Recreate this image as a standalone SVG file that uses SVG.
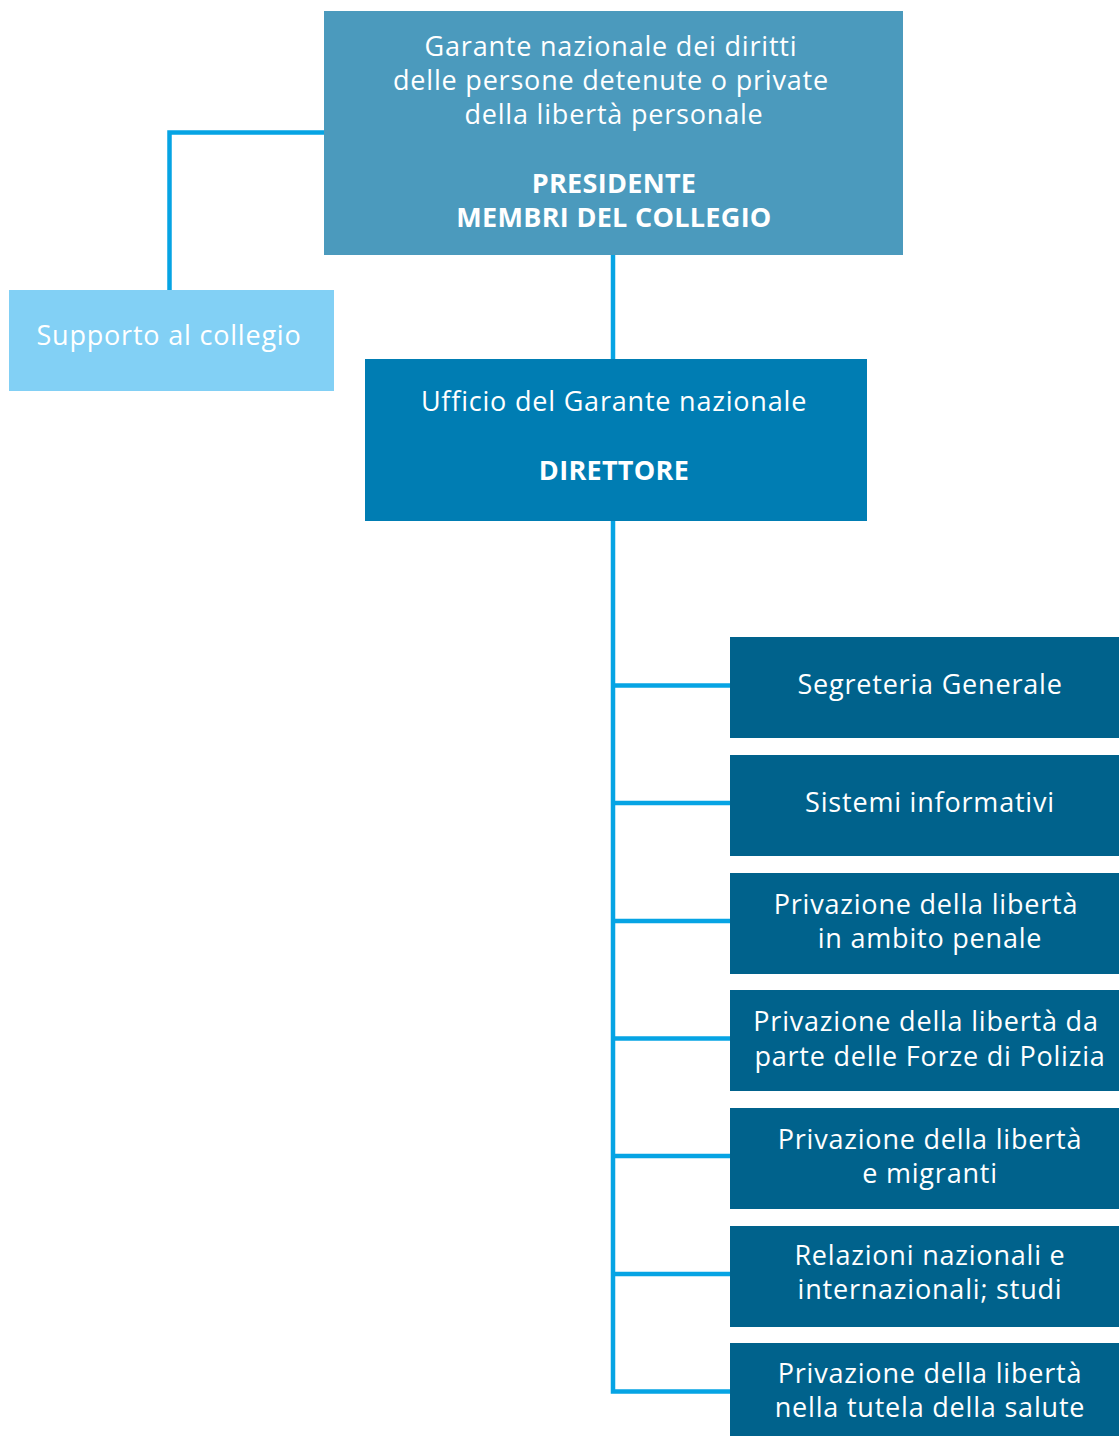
<svg xmlns="http://www.w3.org/2000/svg" width="1119" height="1436" viewBox="0 0 1119 1436">
<style>
  .t { font-family: "Open Sans", "Noto Sans", sans-serif; font-size: 27px; fill: #ffffff; text-anchor: middle; letter-spacing: 0.8px; }
  .b { font-weight: bold; letter-spacing: 0.3px; }
  .conn { fill: none; stroke: #06a4e4; stroke-width: 4.5; stroke-linejoin: miter; stroke-linecap: butt; }
  .child { fill: #00628c; }
</style>
<rect width="1119" height="1436" fill="#ffffff"/>
<g id="connectors">
  <polyline class="conn" points="324,132.5 169.5,132.5 169.5,290"/>
  <line class="conn" x1="613" y1="255" x2="613" y2="359"/>
  <polyline class="conn" points="613,521 613,1391.5 730,1391.5"/>
  <line class="conn" x1="613" y1="685.5" x2="730" y2="685.5"/>
  <line class="conn" x1="613" y1="803" x2="730" y2="803"/>
  <line class="conn" x1="613" y1="921" x2="730" y2="921"/>
  <line class="conn" x1="613" y1="1038.5" x2="730" y2="1038.5"/>
  <line class="conn" x1="613" y1="1156" x2="730" y2="1156"/>
  <line class="conn" x1="613" y1="1274" x2="730" y2="1274"/>
</g>
<g id="garante">
  <rect x="324" y="11" width="579" height="244" fill="#4b9abd"/>
  <text class="t" x="611" y="56">Garante nazionale dei diritti</text>
  <text class="t" x="611" y="90">delle persone detenute o private</text>
  <text class="t" x="614" y="124">della libertà personale</text>
  <text class="t b" x="614" y="193">PRESIDENTE</text>
  <text class="t b" x="614" y="227">MEMBRI DEL COLLEGIO</text>
</g>
<g id="supporto">
  <rect x="9" y="290" width="325" height="101" fill="#82d0f5"/>
  <text class="t" x="169" y="345">Supporto al collegio</text>
</g>
<g id="ufficio">
  <rect x="365" y="359" width="502" height="162" fill="#007db3"/>
  <text class="t" x="614" y="411">Ufficio del Garante nazionale</text>
  <text class="t b" x="614" y="480">DIRETTORE</text>
</g>
<g id="segreteria">
  <rect class="child" x="730" y="637" width="389" height="101"/>
  <text class="t" x="930" y="694">Segreteria Generale</text>
</g>
<g id="sistemi">
  <rect class="child" x="730" y="755" width="389" height="101"/>
  <text class="t" x="930" y="812">Sistemi informativi</text>
</g>
<g id="penale">
  <rect class="child" x="730" y="873" width="389" height="101"/>
  <text class="t" x="926" y="914">Privazione della libertà</text>
  <text class="t" x="930" y="948">in ambito penale</text>
</g>
<g id="polizia">
  <rect class="child" x="730" y="990" width="389" height="101"/>
  <text class="t" x="926" y="1031">Privazione della libertà da</text>
  <text class="t" x="930" y="1066">parte delle Forze di Polizia</text>
</g>
<g id="migranti">
  <rect class="child" x="730" y="1108" width="389" height="101"/>
  <text class="t" x="930" y="1149">Privazione della libertà</text>
  <text class="t" x="930" y="1183">e migranti</text>
</g>
<g id="relazioni">
  <rect class="child" x="730" y="1226" width="389" height="101"/>
  <text class="t" x="930" y="1265">Relazioni nazionali e</text>
  <text class="t" x="930" y="1299">internazionali; studi</text>
</g>
<g id="salute">
  <rect class="child" x="730" y="1343" width="389" height="101"/>
  <text class="t" x="930" y="1383">Privazione della libertà</text>
  <text class="t" x="930" y="1417">nella tutela della salute</text>
</g>
</svg>
